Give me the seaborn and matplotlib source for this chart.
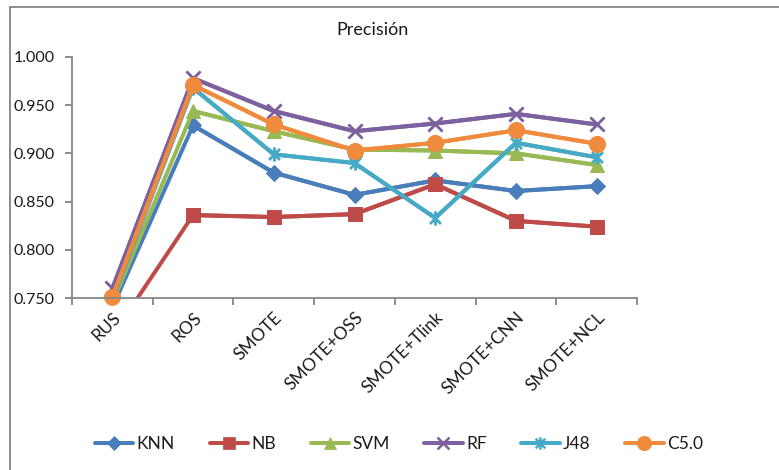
import numpy as np
import pandas as pd
import matplotlib
matplotlib.use("Agg")
import matplotlib.pyplot as plt
from matplotlib.path import Path
from matplotlib.lines import Line2D
import seaborn as sns

categories = ["RUS", "ROS", "SMOTE", "SMOTE+OSS", "SMOTE+Tlink", "SMOTE+CNN", "SMOTE+NCL"]
knn = [0.740, 0.929, 0.880, 0.857, 0.872, 0.861, 0.866]
nb = [0.711, 0.836, 0.834, 0.837, 0.868, 0.830, 0.824]
svm = [0.745, 0.944, 0.923, 0.904, 0.903, 0.900, 0.888]
rf = [0.760, 0.978, 0.944, 0.923, 0.931, 0.941, 0.930]
j48 = [0.748, 0.968, 0.899, 0.890, 0.833, 0.911, 0.896]
c50 = [0.751, 0.971, 0.930, 0.903, 0.911, 0.924, 0.910]
series_names = ["KNN", "NB", "SVM", "RF", "J48", "C5.0"]
series_values = [knn, nb, svm, rf, j48, c50]
y_ticks = [0.750, 0.800, 0.850, 0.900, 0.950, 1.000]
title = "Precisión"

colors = ["#4A7EBB", "#BE4B48", "#98B954", "#7D60A0", "#46AAC5", "#F08A3C"]
star = Path([(-1, -1), (1, 1), (-1, 1), (1, -1), (0, -1.3), (0, 1.3)],
            [Path.MOVETO, Path.LINETO, Path.MOVETO, Path.LINETO, Path.MOVETO, Path.LINETO])
markers = ["D", "s", "^", "x", star, "o"]
msizes = [8, 10, 10, 10, 10, 11.5]
LW = 2.9


def mew(m):
    return 1.8 if (m == "x" or m is star) else 0.5


sns.set_style("white")
plt.rcParams["font.family"] = ["Lato", "DejaVu Sans"]

fig = plt.figure(figsize=(7.79, 4.70), dpi=100)
ax = fig.add_axes([72 / 779, 1 - 298 / 470, (637 - 72) / 779, (298 - 57) / 470])

pos = np.arange(len(categories))
for name, vals, c, m, ms in zip(series_names, series_values, colors, markers, msizes):
    df = pd.DataFrame({"x": pos, "y": vals})
    sns.lineplot(data=df, x="x", y="y", ax=ax, color=c, linewidth=LW,
                 marker=m, markersize=ms, markeredgewidth=mew(m),
                 markeredgecolor=c, label=name, legend=False)
    sub = df[df["y"] >= y_ticks[0]]
    sns.lineplot(data=sub, x="x", y="y", ax=ax, color=c, linewidth=LW,
                 marker=m, markersize=ms, markeredgewidth=mew(m),
                 markeredgecolor=c, clip_on=False, legend=False)

ax.set_ylim(y_ticks[0], y_ticks[-1])
ax.set_xlim(-0.5, len(categories) - 0.5)
ax.set_yticks(y_ticks)
ax.set_yticklabels([f"{v:.3f}" for v in y_ticks])
ax.set_xticks(np.arange(len(categories) + 1) - 0.5)
ax.set_xticklabels([])
ax.set_xticks(pos, minor=True)
ax.set_xticklabels(categories, minor=True, rotation=45, ha="right", rotation_mode="anchor")
ax.set_xlabel("")
ax.set_ylabel("")

spine_c = "#868686"
for s in ["top", "right"]:
    ax.spines[s].set_visible(False)
for s in ["left", "bottom"]:
    ax.spines[s].set_color(spine_c)
    ax.spines[s].set_linewidth(1.3)
ax.tick_params(axis="both", which="major", direction="out", length=5, width=1.3,
               color=spine_c, labelsize=12.5, labelcolor="#1a1a1a", left=True, bottom=True)
ax.tick_params(axis="y", pad=7.5, labelsize=11.5)
ax.tick_params(axis="x", which="minor", length=0, pad=8, labelsize=12.5, labelcolor="#1a1a1a")

fig.text(372 / 779, 1 - 30 / 470, title, ha="center", va="center", fontsize=13, color="#1a1a1a")

handles = [Line2D([], [], color=c, lw=LW, marker=m, markersize=ms * 0.9,
                  markeredgecolor=c, markeredgewidth=mew(m))
           for c, m, ms in zip(colors, markers, msizes)]
fig.legend(handles, series_names, loc="center", bbox_to_anchor=(399 / 779, 1 - 444 / 470),
           ncol=6, frameon=False, fontsize=12.5, handlelength=2.2, handletextpad=0.2,
           columnspacing=2.0, labelcolor="#1a1a1a")

fig.add_artist(Line2D([9.5 / 779, 9.5 / 779], [0, 1 - 7 / 470], color=spine_c, lw=1.3,
                      transform=fig.transFigure))
fig.add_artist(Line2D([9.5 / 779, 1], [1 - 7 / 470, 1 - 7 / 470], color=spine_c, lw=1.3,
                      transform=fig.transFigure))

fig.savefig("out.png", dpi=100)
